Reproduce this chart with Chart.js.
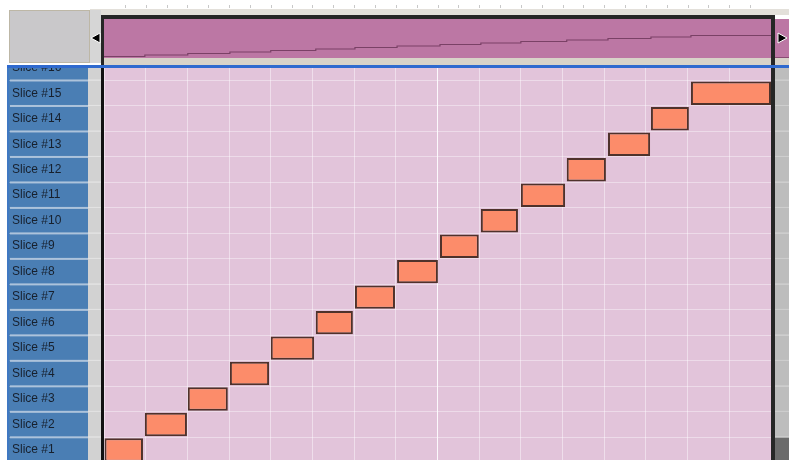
<!DOCTYPE html>
<html>
  <head>
    <style>
      body {
        margin: 0;
        background: #ffffff;
      }
      .frame {
        position: relative;
        width: 789px;
        height: 460px;
        overflow: hidden;
      }
      #slices {
        position: absolute;
        left: 0;
        top: 0;
      }
      #overview {
        position: absolute;
        left: 104px;
        top: 19px;
        background: #bc77a4;
      }
    </style>
  </head>
  <body>
    <div class="frame">
      <canvas id="slices" width="789" height="470"></canvas>
      <canvas id="overview" width="667" height="39"></canvas>
    </div>

    <script src="https://cdn.jsdelivr.net/npm/chart.js"></script>
    <script>
      // slice rows, bottom to top
      const sliceLabels = [
        'Slice #1', 'Slice #2', 'Slice #3', 'Slice #4', 'Slice #5', 'Slice #6',
        'Slice #7', 'Slice #8', 'Slice #9', 'Slice #10', 'Slice #11', 'Slice #12',
        'Slice #13', 'Slice #14', 'Slice #15', 'Slice #16',
      ];
      // note start / end positions in grid steps (16 steps across)
      const sliceStart = [0, 0.98, 2.01, 3.02, 4.0, 5.08, 6.02, 7.03, 8.06, 9.04, 10.0, 11.1, 12.09, 13.12, 14.08];
      const sliceEnd = [0.935, 1.99, 2.97, 3.96, 5.04, 5.97, 6.98, 8.01, 8.99, 9.93, 11.06, 12.04, 13.1, 14.03, 16];
      const gridSteps = 16;

      const bars = sliceStart.map((s, i) => [s, sliceEnd[i]]);

      const rowBounds = (scale, i) => {
        const c = scale.getPixelForValue(i);
        const half = Math.abs(scale.getPixelForValue(1) - scale.getPixelForValue(0)) / 2;
        return [c - half, c + half];
      };

      const arrow = (ctx, x, y, dir) => {
        ctx.beginPath();
        ctx.moveTo(x + dir * 9, y - 5);
        ctx.lineTo(x, y);
        ctx.lineTo(x + dir * 9, y + 5);
        ctx.closePath();
        ctx.fillStyle = '#000';
        ctx.fill();
        ctx.strokeStyle = '#fff';
        ctx.lineWidth = 1;
        ctx.stroke();
      };

      const editorChrome = {
        id: 'editorChrome',
        beforeDraw(chart) {
          const { ctx, chartArea: a } = chart;
          const y = chart.scales.y;
          ctx.save();
          ctx.fillStyle = '#e2c4da';
          ctx.fillRect(a.left, a.top, a.right - a.left, a.bottom - a.top);
          sliceLabels.forEach((_, i) => {
            const [t, b] = rowBounds(y, i);
            ctx.fillStyle = '#4a7eb4';
            ctx.fillRect(7, t, 81, b - t);
            ctx.fillStyle = '#d2d2d2';
            ctx.fillRect(88, t, 13, b - t);
            ctx.fillStyle = i === 0 ? '#6b6b6b' : '#bdbdbd';
            ctx.fillRect(775, t, 14, b - t);
            ctx.fillStyle = '#adc3db';
            ctx.fillRect(10, b - 1, 78, 2);
            ctx.fillStyle = '#e4e4e4';
            ctx.fillRect(88, b - 1, 13, 1);
            ctx.fillStyle = '#cfcfcf';
            ctx.fillRect(775, b - 1, 14, 1);
          });
          ctx.fillStyle = '#3f78c2';
          ctx.fillRect(7, a.top, 2, a.bottom - a.top);
          ctx.restore();
        },
        afterDraw(chart) {
          const { ctx } = chart;
          const x = chart.scales.x;
          ctx.save();
          // ruler + header strip
          ctx.fillStyle = '#ffffff';
          ctx.fillRect(0, 0, 789, 65);
          ctx.fillStyle = '#c8c8c8';
          for (let s = 0.5; s < gridSteps; s += 0.5) {
            ctx.fillRect(Math.round(x.getPixelForValue(s)), 5, 1, 3);
          }
          ctx.fillStyle = '#e3e0da';
          ctx.fillRect(90, 9, 699, 6);
          // left boxes
          ctx.fillStyle = '#bdb7a6';
          ctx.fillRect(9, 10, 81, 53);
          ctx.fillStyle = '#c9c8ca';
          ctx.fillRect(10, 11, 79, 51);
          ctx.fillStyle = '#d6d6d6';
          ctx.fillRect(90, 10, 11, 53);
          arrow(ctx, 91, 38, 1);
          // overview frame
          ctx.fillStyle = '#262626';
          ctx.fillRect(101, 15, 674, 4);
          ctx.fillRect(101, 15, 3, 50);
          ctx.fillRect(771, 15, 4, 445);
          ctx.fillStyle = '#d8d3c9';
          ctx.fillRect(104, 58, 667, 7);
          // right overview stub
          ctx.fillStyle = '#bc77a4';
          ctx.fillRect(775, 19, 14, 39);
          ctx.fillStyle = '#8a4c74';
          ctx.fillRect(775, 57, 14, 1);
          ctx.fillStyle = '#d8d3c9';
          ctx.fillRect(775, 58, 14, 7);
          arrow(ctx, 787, 38, -1);
          // blue divider
          ctx.fillStyle = '#2f6acf';
          ctx.fillRect(7, 65, 782, 3);
          ctx.fillStyle = '#111';
          ctx.fillRect(101, 68, 3, 392);
          ctx.restore();
        },
      };

      new Chart(document.getElementById('slices'), {
        type: 'bar',
        data: {
          labels: sliceLabels,
          datasets: [
            {
              data: bars,
              backgroundColor: '#fc8c6a',
              borderColor: '#4f322b',
              borderWidth: 2,
              borderSkipped: false,
              barPercentage: 1,
              categoryPercentage: 0.92,
            },
          ],
        },
        options: {
          indexAxis: 'y',
          responsive: false,
          animation: false,
          devicePixelRatio: 1,
          layout: { padding: { top: 55, left: 12, right: 18, bottom: 7 } },
          plugins: { legend: { display: false }, tooltip: { enabled: false } },
          scales: {
            x: {
              type: 'linear',
              min: 0,
              max: gridSteps,
              ticks: { stepSize: 1, display: false },
              border: { display: false },
              grid: {
                drawTicks: false,
                color: (c) => (c.tick && c.tick.value === 8 ? 'rgba(255,255,255,0.9)' : 'rgba(255,255,255,0.45)'),
              },
              afterFit: (s) => { s.height = 0; },
            },
            y: {
              reverse: true,
              border: { display: false },
              grid: { drawTicks: false, color: 'rgba(255,255,255,0.4)' },
              ticks: {
                crossAlign: 'far',
                padding: 0,
                color: '#17202d',
                font: { family: 'Liberation Sans, Arial', size: 12 },
              },
              afterFit: (s) => { s.width = 92; },
            },
          },
        },
        plugins: [editorChrome],
      });

      // overview strip: each slice drawn as one step, row index as height
      new Chart(document.getElementById('overview'), {
        type: 'line',
        data: {
          datasets: [
            {
              data: sliceStart.map((s, i) => ({ x: s, y: i + 1 })).concat([{ x: gridSteps, y: sliceStart.length }]),
              stepped: true,
              borderColor: '#7a4166',
              borderWidth: 1.2,
              pointRadius: 0,
            },
          ],
        },
        options: {
          responsive: false,
          animation: false,
          devicePixelRatio: 1,
          layout: { padding: 0 },
          plugins: { legend: { display: false }, tooltip: { enabled: false } },
          scales: {
            x: { type: 'linear', min: 0, max: gridSteps, display: false },
            y: { type: 'linear', min: 0, max: 26, display: false },
          },
        },
      });
    </script>
  </body>
</html>
